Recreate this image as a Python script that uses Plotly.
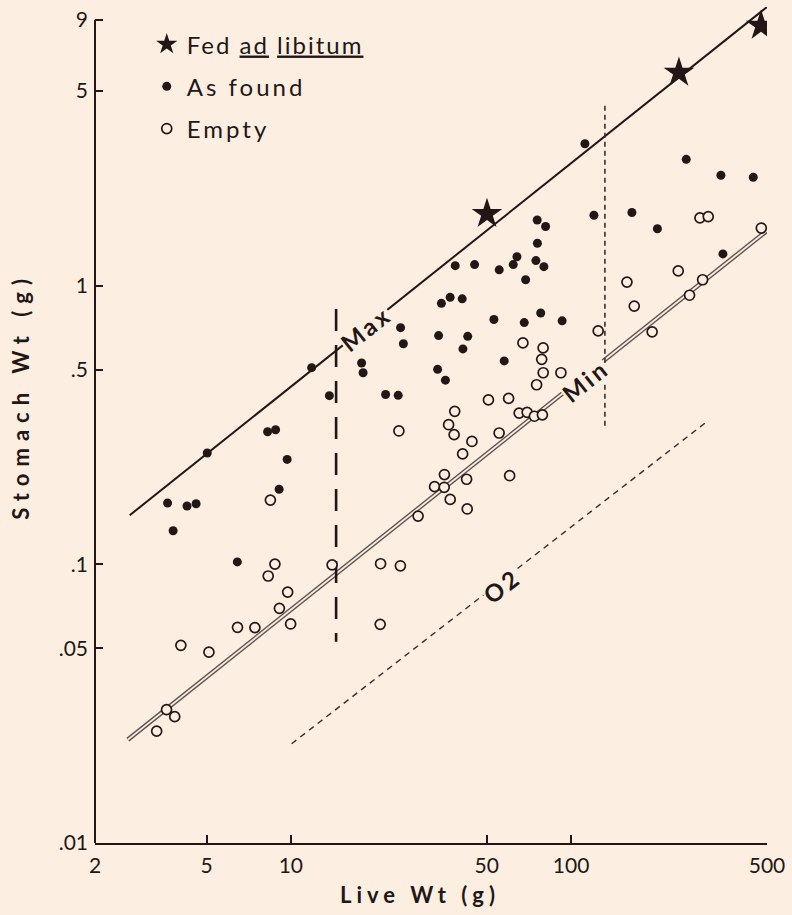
import numpy as np
import plotly.graph_objects as go

BG = "#FCEFE1"
INK = "#221716"
FONT = "Lato, 'Open Sans', sans-serif"

# ---- data (live weight g, stomach weight g) ----
fed_x = [50.1, 242.5, 476.0]
fed_y = [1.81, 5.81, 8.57]

found_x = [3.63, 3.80, 4.26, 4.59, 5.03, 6.44, 8.26, 8.82, 9.08, 9.70,
           11.86, 13.72, 17.88, 18.10, 21.78, 24.15, 24.63, 25.20, 33.39, 35.60,
           33.66, 42.76, 41.11, 34.45, 37.01, 40.87, 38.59, 45.25, 55.39, 62.15,
           64.07, 68.82, 74.88, 79.96, 75.80, 75.68, 81.10, 53.03, 68.03, 77.89,
           92.87, 57.71, 112.0, 120.6, 164.8, 203.2, 257.5, 342.4, 446.6, 348.1]
found_y = [0.166, 0.132, 0.162, 0.165, 0.251, 0.102, 0.299, 0.304, 0.186, 0.238,
           0.508, 0.403, 0.528, 0.487, 0.407, 0.404, 0.707, 0.619, 0.501, 0.458,
           0.662, 0.658, 0.593, 0.864, 0.908, 0.897, 1.18, 1.19, 1.14, 1.19,
           1.27, 1.05, 1.23, 1.17, 1.42, 1.72, 1.63, 0.756, 0.737, 0.798,
           0.748, 0.537, 3.23, 1.79, 1.83, 1.60, 2.84, 2.49, 2.45, 1.30]

empty_x = [3.32, 3.60, 3.85, 4.05, 5.10, 6.45, 7.44, 9.10, 9.98, 9.74,
           8.30, 8.77, 14.03, 8.45, 20.90, 24.59, 20.83, 24.29, 28.44, 32.57,
           35.25, 35.31, 42.37, 37.03, 42.58, 60.34, 41.01, 44.26, 38.24, 36.55,
           38.43, 55.34, 50.69, 59.84, 65.24, 69.66, 73.96, 78.98, 67.30, 79.45,
           78.53, 79.50, 91.96, 75.31, 124.9, 168.0, 194.6, 264.6, 158.2, 294.6,
           241.1, 288.2, 308.5, 477.1]
empty_y = [0.0252, 0.0301, 0.0284, 0.0512, 0.0484, 0.0594, 0.0593, 0.0695, 0.0611, 0.0795,
           0.0908, 0.1002, 0.0996, 0.170, 0.1005, 0.0988, 0.0609, 0.301, 0.149, 0.190,
           0.189, 0.210, 0.202, 0.171, 0.158, 0.208, 0.249, 0.276, 0.292, 0.317,
           0.354, 0.296, 0.389, 0.394, 0.349, 0.351, 0.340, 0.344, 0.623, 0.598,
           0.544, 0.487, 0.487, 0.441, 0.688, 0.844, 0.683, 0.924, 1.03, 1.05,
           1.13, 1.75, 1.77, 1.61]

# reference lines (end points)
max_line_x, max_line_y = [2.66, 500.0], [0.150, 10.0]
min_line_x, min_line_y = [2.62, 500.0], [0.0235, 1.575]
o2_line_x, o2_line_y = [10.06, 308.5], [0.0227, 0.328]
max_cut_x, max_cut_y = [14.5, 14.5], [0.825, 0.0528]
min_cut_x, min_cut_y = [132.0, 132.0], [4.42, 0.307]

# line labels (text, x, y, angle)
line_labels = [("Max", 18.5, 0.70, -38.5), ("Min", 112.5, 0.455, -38.5), ("O2", 56.6, 0.0839, -37.8)]

x_ticks = [2, 5, 10, 50, 100, 500]
x_tick_text = ["2", "5", "10", "50", "100", "500"]
y_ticks = [0.01, 0.05, 0.1, 0.5, 1, 5, 9]
y_tick_text = [".01", ".05", ".1", ".5", "1", "5", "9"]

X_RANGE = [np.log10(2), np.log10(500)]
Y_RANGE = [-2.0, 1.0]


def spaced(text, px):
    return '<span style="letter-spacing:%dpx">%s</span>' % (px, text)


fig = go.Figure()


def line(xs, ys, width, dash="solid", color=INK):
    fig.add_trace(go.Scatter(x=xs, y=ys, mode="lines", showlegend=False, hoverinfo="skip",
                             line=dict(color=color, width=width, dash=dash)))


line(max_line_x, max_line_y, 2.0)
line(min_line_x, min_line_y, 4.6, color="#5e5452")
line(min_line_x, min_line_y, 1.8, color=BG)
line(o2_line_x, o2_line_y, 1.4, dash="6px,5px", color="#3a2e2c")
line(max_cut_x, max_cut_y, 2.6, dash="22px,14px")
line(min_cut_x, min_cut_y, 1.6, dash="5px,4px", color="#3a2e2c")

fig.add_trace(go.Scatter(x=fed_x, y=fed_y, mode="markers",
                         name=spaced("Fed <u>ad</u> <u>libitum</u>", 2),
                         legendgroup="a",
                         marker=dict(symbol="star", size=23, color=INK, line=dict(width=0))))
fig.add_trace(go.Scatter(x=found_x, y=found_y, mode="markers", name=spaced("As found", 3),
                         legendgroup="b",
                         marker=dict(symbol="circle", size=9, color=INK, line=dict(width=0))))
fig.add_trace(go.Scatter(x=empty_x, y=empty_y, mode="markers", name=spaced("Empty", 3),
                         legendgroup="c",
                         marker=dict(symbol="circle", size=10, color=BG,
                                     line=dict(width=1.7, color=INK))))

annotations = []
for text, lx, ly, ang in line_labels:
    annotations.append(dict(x=np.log10(lx), y=np.log10(ly), xref="x", yref="y",
                            text="<b>" + spaced(text, 3) + "</b>",
                            showarrow=False, textangle=ang, bgcolor=BG, borderpad=0,
                            xanchor="center", yanchor="middle",
                            font=dict(family=FONT, size=24, color=INK)))

annotations.append(dict(x=-0.11, y=0.535, xref="paper", yref="paper",
                        text="<b>" + spaced("Stomach Wt (g)", 7) + "</b>",
                        showarrow=False, textangle=-90, xanchor="center", yanchor="middle",
                        font=dict(family=FONT, size=22, color=INK)))
annotations.append(dict(x=0.484, y=-0.062, xref="paper", yref="paper",
                        text="<b>" + spaced("Live Wt (g)", 5) + "</b>",
                        showarrow=False, xanchor="center", yanchor="middle",
                        font=dict(family=FONT, size=22, color=INK)))

y_top_paper = (np.log10(9) - Y_RANGE[0]) / (Y_RANGE[1] - Y_RANGE[0])

fig.update_layout(
    width=792, height=915,
    margin=dict(l=95, r=25, t=7, b=72),
    paper_bgcolor=BG, plot_bgcolor=BG,
    font=dict(family=FONT, color=INK),
    annotations=annotations,
    shapes=[dict(type="line", xref="paper", yref="paper", x0=0, x1=0, y0=0, y1=y_top_paper,
                 line=dict(color=INK, width=2))],
    legend=dict(x=0.077, y=0.982, xanchor="left", yanchor="top", bgcolor="rgba(0,0,0,0)",
                font=dict(family=FONT, size=24, color=INK), tracegroupgap=8, itemwidth=30),
    xaxis=dict(type="log", range=X_RANGE, tickvals=x_ticks, ticktext=x_tick_text,
               showgrid=False, zeroline=False, showline=True, linecolor=INK, linewidth=2,
               ticks="inside", ticklen=8, tickwidth=2, tickcolor=INK,
               tickfont=dict(family=FONT, size=21, color=INK), ticklabelstandoff=3),
    yaxis=dict(type="log", range=Y_RANGE, tickvals=y_ticks, ticktext=y_tick_text,
               showgrid=False, zeroline=False, showline=False,
               ticks="inside", ticklen=8, tickwidth=2, tickcolor=INK,
               tickfont=dict(family=FONT, size=21, color=INK), ticklabelstandoff=6),
)

fig.write_html("out.html", config={"displayModeBar": False},
               post_script="document.body.style.margin='0';document.body.style.padding='0';"
                           "document.body.style.background='%s';"
                           "document.body.style.overflow='hidden';" % BG)
